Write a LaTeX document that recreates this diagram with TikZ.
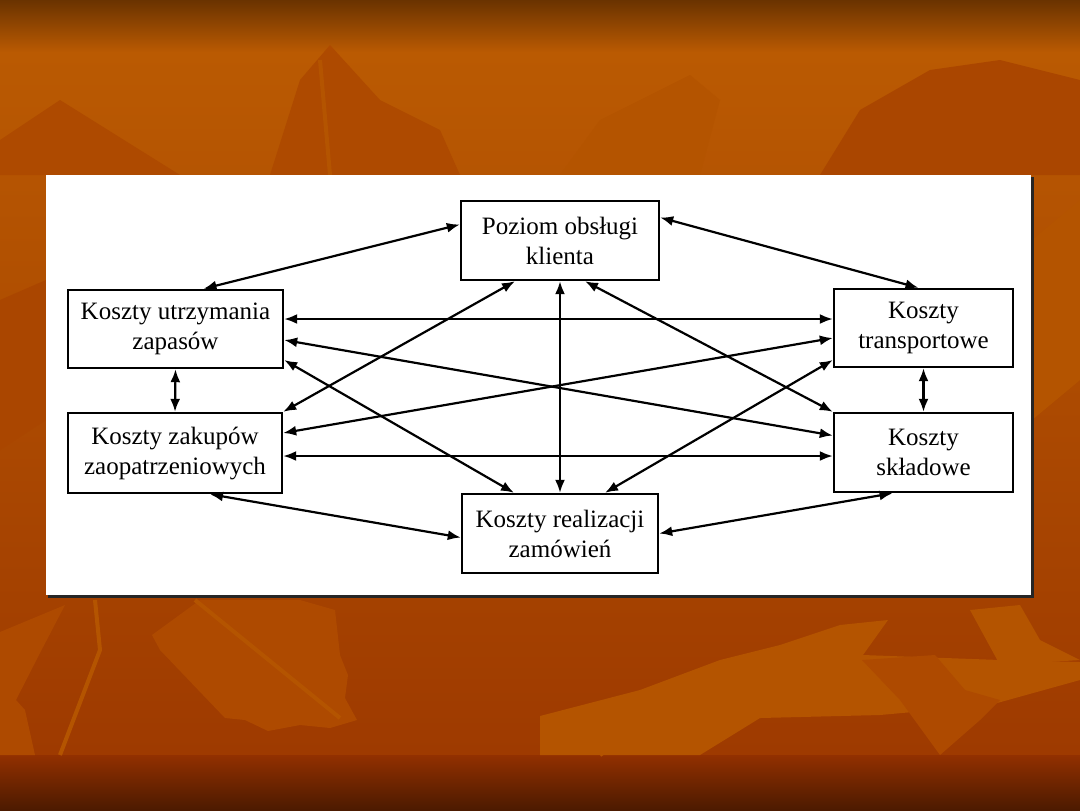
\documentclass[tikz,border=0pt]{standalone}
\usepackage{fontspec}
\setmainfont{Liberation Serif}
\usepackage{xcolor}
\usepackage{tikz}
\usetikzlibrary{arrows.meta,calc}

\definecolor{bgtop}{HTML}{6A3300}
\definecolor{bgmid}{HTML}{BA5A02}
\definecolor{bglow}{HTML}{9E3A00}
\definecolor{bgband}{HTML}{923000}
\definecolor{bgbottom}{HTML}{4C1A00}
\definecolor{leafA}{HTML}{AE4A00}
\definecolor{leafB}{HTML}{B45400}
\definecolor{leafC}{HTML}{AA4600}

\begin{document}
\begin{tikzpicture}[
    x=0.5pt, y=-0.5pt,
    box/.style = {rectangle, draw, line width=1.2pt, fill=white, align=center, inner sep=0pt, font=\fontsize{12.5}{15}\selectfont},
    link/.style = {line width=1.1pt, {Latex[length=6.5pt,width=5pt]}-{Latex[length=6.5pt,width=5pt]}},
    stem/.style = {draw=leafB, line width=2pt}
]
\useasboundingbox (0,0) rectangle (1080,810);

% Background
\shade[top color=bgtop, bottom color=bgmid] (0,0) rectangle (1080,52);
\shade[top color=bgmid, bottom color=bglow] (0,52) rectangle (1080,755);
\shade[top color=bgband, bottom color=bgbottom] (0,755) rectangle (1080,810);

% Leaves
\fill[leafA] (0,632) -- (65,605) -- (40,653) -- (16,700) -- (25,710) -- (35,755) -- (0,755) -- cycle;
\draw[stem] (95,600) -- (100,650) -- (60,755);
\fill[leafA] (152,635) -- (160,650) -- (225,718) -- (245,720) -- (268,731) -- (300,725) -- (330,728) -- (357,720) -- (345,698) -- (348,675) -- (340,655) -- (335,610) -- (300,600) -- (200,600) -- cycle;
\draw[stem] (195,600) -- (340,718);
\fill[leafB] (540,716) -- (640,690) -- (720,660) -- (780,645) -- (840,625) -- (888,620) -- (863,655) -- (1000,660) -- (1080,662) -- (1080,680) -- (990,705) -- (880,715) -- (760,718) -- (700,755) -- (540,755) -- cycle;
\fill[leafA] (862,660) -- (935,655) -- (965,690) -- (1000,700) -- (980,720) -- (940,755) -- (900,700) -- cycle;
\fill[leafB] (970,610) -- (1020,605) -- (1040,640) -- (1080,660) -- (1000,665) -- cycle;
\draw[stem] (600,755) -- (680,700) -- (750,660);
\fill[leafA] (270,175) -- (300,80) -- (330,45) -- (380,100) -- (440,130) -- (460,175) -- cycle;
\draw[stem] (320,60) -- (330,175);
\fill[leafB] (560,175) -- (600,120) -- (690,75) -- (720,100) -- (700,175) -- cycle;
\fill[leafC] (820,175) -- (860,110) -- (930,70) -- (1000,60) -- (1080,80) -- (1080,175) -- cycle;
\fill[leafA] (0,140) -- (60,100) -- (140,150) -- (180,175) -- (0,175) -- cycle;
\fill[leafC] (0,300) -- (46,280) -- (46,420) -- (0,450) -- cycle;
\fill[leafB] (1032,240) -- (1080,200) -- (1080,380) -- (1032,420) -- cycle;

% Panel
\fill[white] (46,175) rectangle (1031,595);
\fill[black!85] (1031,177) rectangle (1034,598);
\fill[black!85] (48,595) rectangle (1034,598);

% Row 1
\node [box, minimum width=99pt, minimum height=39.5pt] (P) at (560,240.5) {Poziom obsługi\\klienta};

% Row 2
\node [box, minimum width=107.5pt, minimum height=39pt] (U) at (175.5,329) {Koszty utrzymania\\zapasów};
\node [box, minimum width=89.5pt, minimum height=39pt] (T) at (923.5,328) {Koszty\\transportowe};

% Row 3
\node [box, minimum width=107pt, minimum height=40pt] (Z) at (175,453) {Koszty zakupów\\zaopatrzeniowych};
\node [box, minimum width=89.5pt, minimum height=39.5pt] (S) at (923.5,452.5) {Koszty\\składowe};

% Row 4
\node [box, minimum width=98pt, minimum height=39.5pt] (R) at (560,533.5) {Koszty realizacji\\zamówień};

% Arrows
\draw [link] ($(U.north)+(28,0)$) -- ($(P.west)+(0,-16)$);
\draw [link] ($(P.east)+(0,-23)$) -- ($(T.north)+(-5,0)$);
\draw [link] ($(U.east)+(0,-10)$) -- ($(T.west)+(0,-9)$);
\draw [link] ($(U.east)+(0,11)$) -- ($(S.west)+(0,-17)$);
\draw [link] ($(U.east)+(0,31)$) -- ($(R.north)+(-46,0)$);
\draw [link] (Z.north east) -- ($(P.south)+(-45,0)$);
\draw [link] ($(Z.east)+(0,-20)$) -- ($(T.west)+(0,10)$);
\draw [link] ($(Z.east)+(0,3)$) -- ($(S.west)+(0,3.5)$);
\draw [link] ($(Z.south)+(35,0)$) -- ($(R.west)+(0,4)$);
\draw [link] (R.east) -- ($(S.south)+(-31,0)$);
\draw [link] (P.south) -- (R.north);
\draw [link] ($(P.south)+(25,0)$) -- (S.north west);
\draw [link] ($(R.north)+(45,0)$) -- ($(T.west)+(0,32)$);
\draw [link] (U.south) -- (Z.north);
\draw [link] (T.south) -- (S.north);

\end{tikzpicture}
\end{document}
